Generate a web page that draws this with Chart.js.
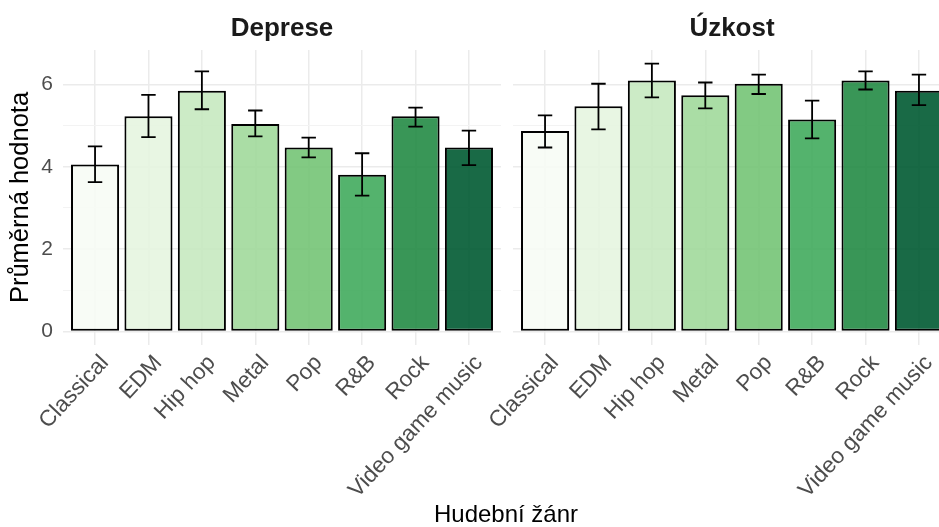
<!DOCTYPE html>
<html>
<head>
<meta charset="utf-8">
<script src="https://cdn.jsdelivr.net/npm/chart.js@4/dist/chart.umd.min.js"></script>
<style>
  html, body { margin: 0; padding: 0; background: #ffffff; overflow: hidden; }
  #wrap { position: relative; width: 939px; height: 527px; overflow: hidden; font-family: 'Liberation Sans', Arial, sans-serif; }
  canvas { position: absolute; top: 0; }
  .ptitle { position: absolute; top: 12px; font-weight: bold; font-size: 26px; line-height: 30px; color: #1a1a1a; transform: translateX(-50%); white-space: nowrap; }
  .xtitle { position: absolute; top: 500px; font-size: 24px; line-height: 28px; color: #000; transform: translateX(-50%); white-space: nowrap; }
</style>
</head>
<body>
<div id="wrap">
  <canvas id="c1" width="505" height="527" style="left:0px"></canvas>
  <canvas id="c2" width="505" height="527" style="left:450px"></canvas>
  <div class="ptitle" style="left:282px">Deprese</div>
  <div class="ptitle" style="left:732px">Úzkost</div>
  <div class="xtitle" style="left:506px">Hudební žánr</div>
</div>
<script>
// ---- data ----
const categories = ['Classical', 'EDM', 'Hip hop', 'Metal', 'Pop', 'R&B', 'Rock', 'Video game music'];
const deprese     = [4.06, 5.23, 5.85, 5.04, 4.47, 3.81, 5.23, 4.47];
const depreseLow  = [3.63, 4.72, 5.40, 4.74, 4.23, 3.30, 4.98, 4.04];
const depreseHigh = [4.50, 5.75, 6.32, 5.37, 4.71, 4.33, 5.44, 4.88];
const uzkost      = [4.87, 5.47, 6.10, 5.74, 6.02, 5.15, 6.10, 5.85];
const uzkostLow   = [4.47, 4.91, 5.69, 5.42, 5.77, 4.69, 5.88, 5.50];
const uzkostHigh  = [5.25, 6.02, 6.51, 6.05, 6.24, 5.61, 6.32, 6.24];
const yTicks = [0, 1, 2, 3, 4, 5, 6];

// ---- styling ----
const palette = ['#F7FCF5', '#E5F5E0', '#C7E9C0', '#A1D99B', '#74C476', '#41AB5D', '#238B45', '#005A32'];
function withAlpha(hex, a) {
  const r = parseInt(hex.slice(1, 3), 16), g = parseInt(hex.slice(3, 5), 16), b = parseInt(hex.slice(5, 7), 16);
  return `rgba(${r},${g},${b},${a})`;
}
const barColors = palette.map(c => withAlpha(c, 0.9));
const FONT = "'Liberation Sans', Arial, sans-serif";

const errorBarPlugin = {
  id: 'errorBars',
  afterDatasetsDraw(chart, args, opts) {
    const { ctx, scales: { x, y } } = chart;
    const cat = Math.abs(x.getPixelForValue(1) - x.getPixelForValue(0));
    const half = cat * 0.135;
    ctx.save();
    ctx.strokeStyle = '#000';
    ctx.lineWidth = 1.8;
    ctx.lineCap = 'butt';
    opts.low.forEach((lo, i) => {
      const hi = opts.high[i];
      const px = x.getPixelForValue(i);
      const yl = y.getPixelForValue(lo), yh = y.getPixelForValue(hi);
      ctx.beginPath();
      ctx.moveTo(px, yl); ctx.lineTo(px, yh);
      ctx.moveTo(px - half, yl); ctx.lineTo(px + half, yl);
      ctx.moveTo(px - half, yh); ctx.lineTo(px + half, yh);
      ctx.stroke();
    });
    ctx.restore();
  }
};

function makeChart(id, values, low, high, showY) {
  return new Chart(document.getElementById(id), {
    type: 'bar',
    data: {
      labels: categories,
      datasets: [{
        data: values,
        backgroundColor: barColors,
        borderColor: '#000',
        borderWidth: 2,
        borderSkipped: false,
        barPercentage: 0.9,
        categoryPercentage: 1.0
      }]
    },
    options: {
      responsive: false,
      animation: false,
      devicePixelRatio: 1,
      layout: { padding: { top: 50, right: 4, left: 0, bottom: 0 } },
      plugins: {
        legend: { display: false },
        tooltip: { enabled: false },
        title: { display: false },
        errorBars: { low: low, high: high }
      },
      scales: {
        x: {
          type: 'category',
          offset: true,
          afterBuildTicks(scale) {
            // ggplot-style discrete expansion of 0.6 category on each side
            scale._startValue = -0.6;
            scale._valueRange = categories.length + 0.2;
          },
          grid: { offset: false, color: '#ebebeb', lineWidth: 1.5, drawTicks: false },
          border: { display: false },
          ticks: {
            minRotation: 47, maxRotation: 47, autoSkip: false, padding: 5,
            showLabelBackdrop: true, backdropColor: 'rgba(0,0,0,0)', backdropPadding: 0,
            color: '#4d4d4d', font: { family: FONT, size: 22.5 }
          },
          afterFit(scale) { scale.height = 182; }
        },
        y: {
          min: -0.33, max: 6.84,
          afterBuildTicks(scale) { scale.ticks = yTicks.map(v => ({ value: v })); },
          grid: {
            drawTicks: false,
            color: ctx => (ctx.tick && ctx.tick.value % 2 === 0) ? '#ebebeb' : '#f3f3f3',
            lineWidth: ctx => (ctx.tick && ctx.tick.value % 2 === 0) ? 1.5 : 1
          },
          border: { display: false },
          ticks: {
            display: showY,
            padding: 10,
            color: '#4d4d4d',
            font: { family: FONT, size: 21 },
            callback: v => (v % 2 === 0 ? String(v) : '')
          },
          title: {
            display: showY,
            text: 'Průměrná hodnota',
            color: '#000',
            font: { family: FONT, size: 25.5 },
            padding: { top: 6, bottom: 0 }
          },
          afterFit(scale) { scale.width = 63; }
        }
      }
    },
    plugins: [errorBarPlugin]
  });
}

makeChart('c1', deprese, depreseLow, depreseHigh, true);
makeChart('c2', uzkost, uzkostLow, uzkostHigh, false);
</script>
</body>
</html>
